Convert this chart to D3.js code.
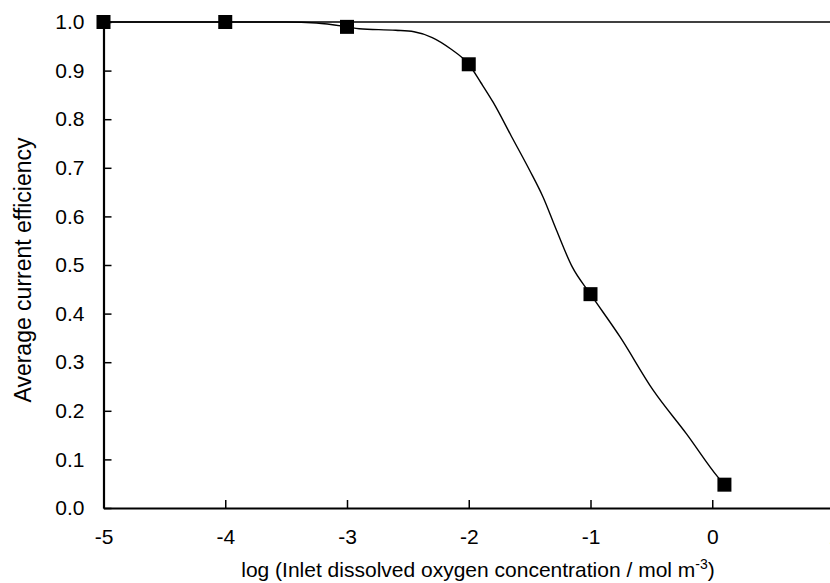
<!DOCTYPE html>
<html>
<head>
<meta charset="utf-8">
<script src="https://cdn.jsdelivr.net/npm/d3@7"></script>
<style>
  body { margin: 0; background: #fff; }
  text { font-family: "Liberation Sans", Arial, sans-serif; }
</style>
</head>
<body>
<div id="chart"></div>
<script>
// measured points (markers)
var markerX = [-5, -4, -3, -2, -1, 0.1];
var markerY = [1.0, 1.0, 0.99, 0.913, 0.44, 0.048];

// model curve
var curveX = [-5, -4, -3.5, -3.25, -3.0, -2.9, -2.6, -2.45, -2.3, -2.15, -2.0, -1.9, -1.8, -1.65, -1.5, -1.39, -1.28, -1.15, -1.0, -0.757, -0.487, -0.21, 0.045, 0.1];
var curveY = [1.0, 1.0, 1.0, 0.998, 0.99, 0.986, 0.983, 0.98, 0.968, 0.945, 0.913, 0.875, 0.835, 0.765, 0.695, 0.64, 0.572, 0.496, 0.44, 0.352, 0.243, 0.152, 0.064, 0.048];

// upper limit line
var limitX = [-5, 1];
var limitY = [1.0, 1.0];

var xTicks = [-5, -4, -3, -2, -1, 0, 1];
var yTicks = [0, 0.1, 0.2, 0.3, 0.4, 0.5, 0.6, 0.7, 0.8, 0.9, 1.0];

const width = 830, height = 583;

const svg = d3.select('#chart').append("svg")
    .attr("width", width)
    .attr("height", height);

const xScale = d3.scaleLinear().domain([-5, 1]).range([103.5, 834]);
const yScale = d3.scaleLinear().domain([0, 1]).range([508, 22]);

const xAxis = d3.axisBottom(xScale)
    .tickValues(xTicks)
    .tickSizeInner(-8)
    .tickSizeOuter(0)
    .tickPadding(21)
    .tickFormat(function (d) { return String(d); });

const yAxis = d3.axisLeft(yScale)
    .tickValues(yTicks)
    .tickSizeInner(-8)
    .tickSizeOuter(0)
    .tickPadding(19)
    .tickFormat(d3.format(".1f"));

// x-axis
svg.append("g")
    .attr("class", "xaxis")
    .attr("transform", "translate(0," + yScale(0) + ")")
    .call(xAxis);

// y-axis
svg.append("g")
    .attr("class", "yaxis")
    .attr("transform", "translate(" + xScale(-5) + ",0)")
    .call(yAxis);

svg.selectAll(".domain").attr("stroke", "#000").attr("stroke-width", 2.2);
svg.selectAll(".tick line").attr("stroke", "#000").attr("stroke-width", 1.5);
svg.selectAll(".tick text")
    .attr("fill", "#000")
    .style("font-size", "21px")
    .style("font-family", "'Liberation Sans', Arial, sans-serif");

// limit line
const line = d3.line()
    .x(function (d) { return xScale(d[0]); })
    .y(function (d) { return yScale(d[1]); });

svg.append("path")
    .datum(d3.zip(limitX, limitY))
    .attr("d", line)
    .attr("fill", "none")
    .attr("stroke", "#000")
    .attr("stroke-width", 1.6);

// model curve
svg.append("path")
    .datum(d3.zip(curveX, curveY))
    .attr("d", line.curve(d3.curveMonotoneX))
    .attr("fill", "none")
    .attr("stroke", "#000")
    .attr("stroke-width", 1.4);

// plot the data
const s = 14;
svg.selectAll(".dot")
    .data(d3.zip(markerX, markerY))
    .enter().append("rect")
    .attr("class", "dot")
    .attr("x", function (d) { return xScale(d[0]) - s / 2; })
    .attr("y", function (d) { return yScale(d[1]) - s / 2; })
    .attr("width", s)
    .attr("height", s)
    .attr("fill", "#000");

// axis titles
const xt = svg.append("text")
    .attr("x", 478)
    .attr("y", 577)
    .attr("text-anchor", "middle")
    .style("font-size", "21px")
    .attr("fill", "#000");
xt.append("tspan").text("log (Inlet dissolved oxygen concentration / mol m");
xt.append("tspan").attr("dy", "-8").style("font-size", "14px").text("-3");
xt.append("tspan").attr("dy", "8").text(")");

svg.append("text")
    .attr("transform", "translate(31,270) rotate(-90)")
    .attr("text-anchor", "middle")
    .style("font-size", "23px")
    .attr("fill", "#000")
    .text("Average current efficiency");
</script>
</body>
</html>
